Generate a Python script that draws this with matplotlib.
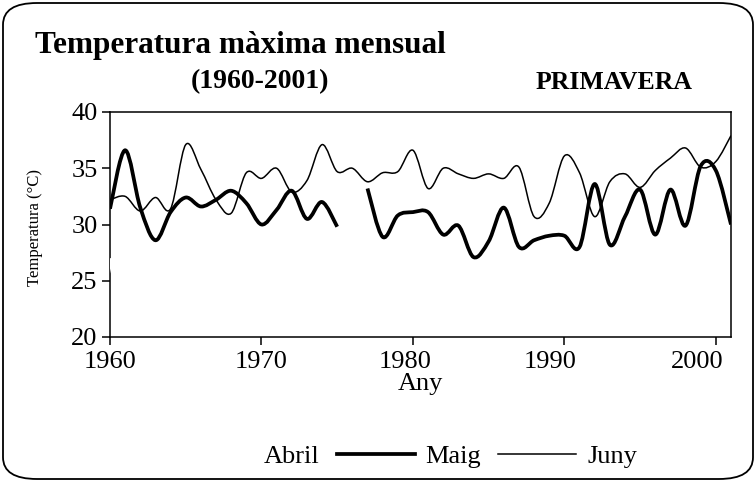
import numpy as np
import matplotlib
matplotlib.use("Agg")
import matplotlib.pyplot as plt
import matplotlib.transforms as mtransforms
from matplotlib.path import Path
from matplotlib.patches import PathPatch, FancyBboxPatch
from matplotlib.lines import Line2D

plt.rcParams['font.family'] = ['Liberation Serif', 'DejaVu Serif']

years = list(range(1960, 2002))
maig = [31.4, 36.6, 31.5, 28.6, 31.1, 32.4, 31.6, 32.2, 33.0, 31.9,
        30.0, 31.3, 33.0, 30.5, 32.0, 29.8, np.nan, 33.2, 28.9, 30.8,
        31.1, 31.1, 29.1, 29.9, 27.1, 28.5, 31.5, 28.0, 28.6, 29.0,
        29.0, 28.0, 33.6, 28.2, 30.7, 33.1, 29.1, 33.1, 29.9, 35.2,
        34.8, 30.0]
juny = [32.2, 32.5, 31.2, 32.4, 31.4, 37.1, 34.9, 32.2, 31.0, 34.6,
        34.1, 35.0, 32.9, 33.9, 37.1, 34.7, 35.0, 33.8, 34.6, 34.7,
        36.6, 33.2, 35.0, 34.5, 34.1, 34.5, 34.1, 35.1, 30.7, 31.9,
        36.1, 34.6, 30.7, 33.8, 34.5, 33.3, 34.8, 35.9, 36.8, 35.1,
        35.6, 37.9]
abril = [27.0, 21.5, 24.5, 25.0, 24.0, 25.5, 24.5, 25.0, 24.0, 25.0,
         24.5, 25.5, 24.0, 25.0, 24.5, 25.0, 24.0, 25.5, 24.5, 25.0,
         24.0, 25.0, 24.5, 25.0, 24.0, 25.5, 24.5, 25.0, 24.0, 25.0,
         24.5, 25.5, 24.0, 25.0, 24.5, 25.0, 24.0, 25.5, 24.5, 25.0,
         24.0, np.nan]
series_names = ['Abril', 'Maig', 'Juny']
xticks = [1960, 1970, 1980, 1990, 2000]
yticks = [20, 25, 30, 35, 40]


def smooth_path(xs, ys):
    """Excel-like smoothed line as cubic Bezier segments, split at gaps."""
    xs = np.asarray(xs, float)
    ys = np.asarray(ys, float)
    verts, codes = [], []
    valid = ~np.isnan(ys)
    i = 0
    n = len(xs)
    while i < n:
        if not valid[i]:
            i += 1
            continue
        j = i
        while j + 1 < n and valid[j + 1]:
            j += 1
        px = xs[i:j + 1]
        py = ys[i:j + 1]
        m = len(px)
        verts.append((px[0], py[0]))
        codes.append(Path.MOVETO)
        for k in range(m - 1):
            k0 = max(k - 1, 0)
            k3 = min(k + 2, m - 1)
            c1 = (px[k] + (px[k + 1] - px[k0]) / 6.0, py[k] + (py[k + 1] - py[k0]) / 6.0)
            c2 = (px[k + 1] - (px[k3] - px[k]) / 6.0, py[k + 1] - (py[k3] - py[k]) / 6.0)
            verts += [c1, c2, (px[k + 1], py[k + 1])]
            codes += [Path.CURVE4] * 3
        i = j + 1
    return Path(verts, codes)


W, H = 756, 482
fig = plt.figure(figsize=(W / 100, H / 100), dpi=100)

# rounded chart border
border = FancyBboxPatch((3 / W, 3 / H), (W - 6) / W, (H - 6) / H,
                        boxstyle="round,pad=0,rounding_size=0.045",
                        transform=fig.transFigure, facecolor='white',
                        edgecolor='black', linewidth=1.3, zorder=-10)
fig.patches.append(border)

ax = fig.add_axes([110 / W, 1 - 337 / H, (731 - 110) / W, (337 - 112) / H])
ax.set_facecolor('none')

for name, vals, lw, col, z in [(series_names[0], abril, 3.0, 'white', 2.7),
                               (series_names[1], maig, 2.7, 'black', 3),
                               (series_names[2], juny, 1.1, 'black', 3)]:
    p = PathPatch(smooth_path(years, vals), facecolor='none', edgecolor=col,
                  linewidth=lw, zorder=z, capstyle='butt', joinstyle='round')
    ax.add_patch(p)

ax.set_xlim(1960, 2001)
ax.set_ylim(20, 40)
ax.set_xticks(xticks)
ax.set_yticks(yticks)
ax.set_xticklabels([str(t) for t in xticks], fontsize=19)
ax.set_yticklabels([str(t) for t in yticks], fontsize=19)
ax.tick_params(direction='out', length=6, width=1.1, pad=3)
ax.tick_params(axis='x', pad=4)
for s in ax.spines.values():
    s.set_linewidth(1.1)

# the reference's year labels sit progressively left of their ticks
label_shift_px = [0, 0, -8, -14, -19]
for lab, dx in zip(ax.get_xticklabels(), label_shift_px):
    lab.set_transform(lab.get_transform() +
                      mtransforms.ScaledTranslation(dx / 100, 0, fig.dpi_scale_trans))

fig.text(35 / W, 1 - 46 / H, 'Temperatura màxima mensual', fontsize=22.5,
         fontweight='bold', ha='left', va='center')
fig.text(260 / W, 1 - 82 / H, '(1960-2001)', fontsize=20,
         fontweight='bold', ha='center', va='center')
fig.text(614 / W, 1 - 82 / H, 'PRIMAVERA', fontsize=18.5,
         fontweight='bold', ha='center', va='center')
fig.text(35 / W, 1 - 228 / H, 'Temperatura (°C)', fontsize=12,
         rotation=90, ha='center', va='center')
fig.text(420 / W, 1 - 384 / H, 'Any', fontsize=19, ha='center', va='center')

handles = [Line2D([], [], color='white', lw=2.0),
           Line2D([], [], color='black', lw=2.7),
           Line2D([], [], color='black', lw=1.1)]
fig.legend(handles, series_names, loc='center', ncol=3,
           bbox_to_anchor=(406 / W, 1 - 456 / H), frameon=False,
           fontsize=19, handlelength=2.95, handletextpad=0.42,
           columnspacing=0.65)

fig.savefig('out.png', dpi=100)
